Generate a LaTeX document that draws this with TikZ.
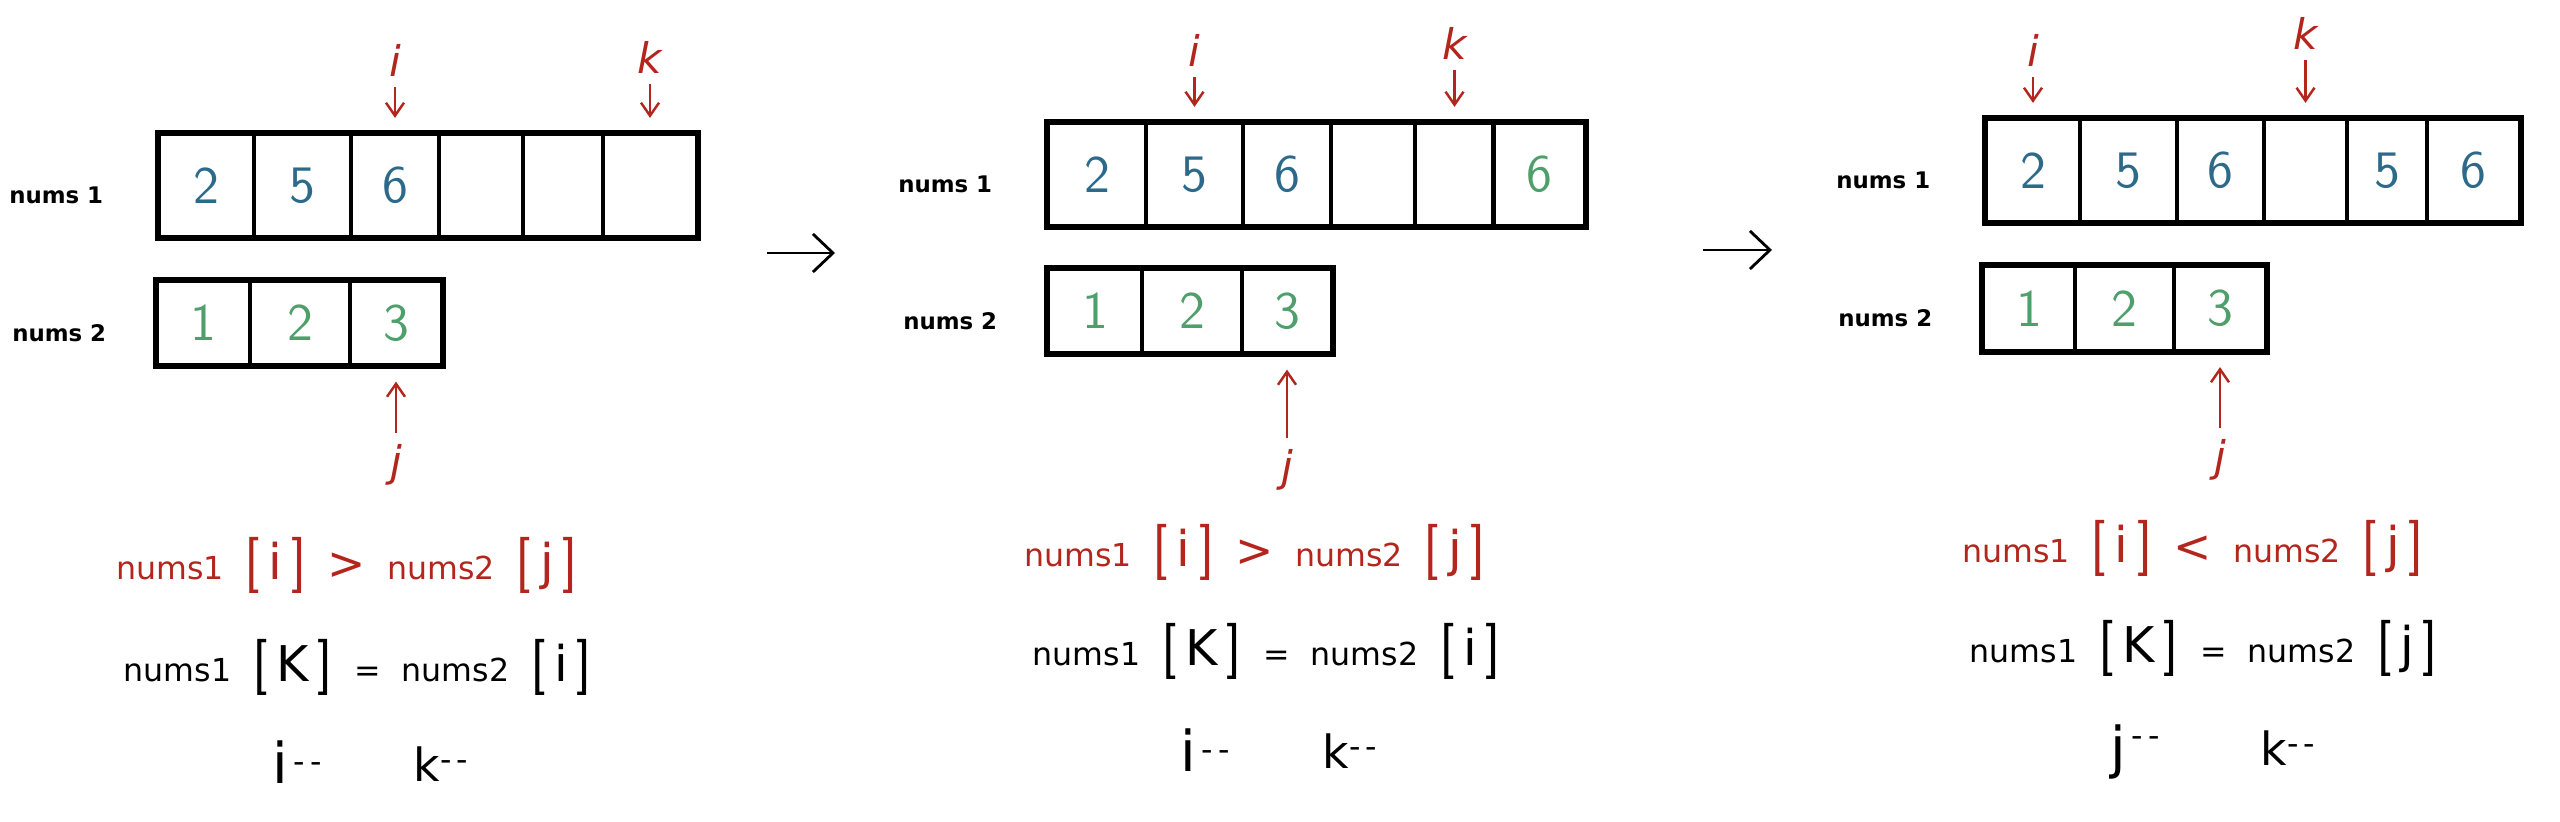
\documentclass[tikz,border=0pt]{standalone}
\usepackage{fontspec}
\setmainfont{DejaVu Sans}
\usepackage{xcolor}
\usepackage{tikz}
\usetikzlibrary{arrows.meta, positioning}

\definecolor{ptrred}{HTML}{B3261E}
\definecolor{oldblue}{HTML}{2D6A8A}
\definecolor{newgreen}{HTML}{4E9F6C}

\newcommand{\wg}{\hspace{6pt}}
\newcommand{\bigbr}[1]{{\sffamily\fontsize{16}{16}\selectfont[}\hspace{2.5pt}{\fontsize{14}{14}\selectfont #1}\hspace{2.5pt}{\sffamily\fontsize{16}{16}\selectfont]}}
\newcommand{\bigop}[1]{{\fontsize{13}{13}\selectfont #1}}

\begin{document}
\begin{tikzpicture}[
    x=0.01cm, y=-0.01cm,
    % Styles
    topcell/.style={
      draw=black,
      line width=0.9pt,
      minimum height=1.02cm,
      inner sep=0pt,
      font=\sffamily\fontsize{15}{15}\selectfont,
      text=oldblue
    },
    botcell/.style={
      draw=black,
      line width=0.9pt,
      minimum height=0.84cm,
      inner sep=0pt,
      font=\sffamily\fontsize{15}{15}\selectfont,
      text=newgreen
    },
    moved/.style={text=newgreen},
    rowframe/.style={draw=black, line width=1.5pt},
    rowname/.style={
      font=\bfseries\fontsize{6.5}{6.5}\selectfont,
      inner sep=1pt,
      yshift=-0.1cm
    },
    ptrname/.style={
      text=ptrred,
      font=\itshape\fontsize{12}{12}\selectfont,
      inner sep=1pt
    },
    ptr/.style={
      draw=ptrred,
      line width=0.7pt,
      -{Straight Barb[length=1.3mm, width=1.8mm]},
      shorten <=0.07cm,
      shorten >=0.15cm
    },
    cmpline/.style={text=ptrred, font=\fontsize{9}{9}\selectfont, inner sep=0pt},
    setline/.style={font=\fontsize{9}{9}\selectfont, inner sep=0pt},
    decline/.style={font=\fontsize{9}{9}\selectfont, inner sep=0pt},
    stepgo/.style={
      draw=black,
      line width=0.8pt,
      -{Straight Barb[length=2mm, width=3.8mm]}
    }
  ]

    \useasboundingbox (0,0) rectangle (2560,822);

    % ---------- Step 1 ----------
    \node (s1a1) [topcell, minimum width=0.95cm] at (206.5,185.5) {2};
    \node (s1a2) [topcell, minimum width=0.97cm] at (302.5,185.5) {5};
    \node (s1a3) [topcell, minimum width=0.88cm] at (395,185.5) {6};
    \node (s1a4) [topcell, minimum width=0.84cm] at (481,185.5) {};
    \node (s1a5) [topcell, minimum width=0.80cm] at (563,185.5) {};
    \node (s1a6) [topcell, minimum width=0.94cm] at (650,185.5) {};
    \node (s1b1) [botcell, minimum width=0.93cm] at (203.5,323) {1};
    \node (s1b2) [botcell, minimum width=1.00cm] at (300,323) {2};
    \node (s1b3) [botcell, minimum width=0.92cm] at (396,323) {3};
    \draw [rowframe] (s1a1.north west) rectangle (s1a6.south east);
    \draw [rowframe] (s1b1.north west) rectangle (s1b3.south east);

    \node (s1n1) [rowname, left=0.5cm of s1a1] {nums 1};
    \node (s1n2) [rowname, left=0.45cm of s1b1] {nums 2};

    \node (s1i) [ptrname] at (395,60) {i};
    \node (s1k) [ptrname] at (650,57) {k};
    \node (s1j) [ptrname] at (396,465) {j};
    \draw [ptr] (s1i) -- (s1a3.north);
    \draw [ptr] (s1k) -- (s1a6.north);
    \draw [ptr] (s1j) -- (s1b3.south);

    \node (s1cmp) [cmpline] at (347,565) {nums1\wg\bigbr{i}\wg\bigop{>}\wg nums2\wg\bigbr{j}};
    \node (s1set) [setline] at (358,667) {nums1\wg\bigbr{K}\wg=\wg nums2\wg\bigbr{i}};
    \node (s1idec) [decline] at (297,762) {{\fontsize{16}{16}\selectfont i}\,\raisebox{3pt}{-\,-}};
    \node (s1kdec) [decline] at (441,764) {{\fontsize{13}{13}\selectfont k}\raisebox{3pt}{-\,-}};

    \coordinate (go1a) at (767,253);
    \coordinate (go1b) at (835,253);
    \draw [stepgo] (go1a) -- (go1b);

    % ---------- Step 2 ----------
    \node (s2a1) [topcell, minimum width=0.98cm] at (1097,174.5) {2};
    \node (s2a2) [topcell, minimum width=0.97cm] at (1194.5,174.5) {5};
    \node (s2a3) [topcell, minimum width=0.88cm] at (1287,174.5) {6};
    \node (s2a4) [topcell, minimum width=0.84cm] at (1373,174.5) {};
    \node (s2a5) [topcell, minimum width=0.79cm] at (1454.5,174.5) {};
    \node (s2a6) [topcell, moved, minimum width=0.92cm] at (1539,174.5) {6};
    \node (s2b1) [botcell, minimum width=0.94cm] at (1095,311) {1};
    \node (s2b2) [botcell, minimum width=1.00cm] at (1192,311) {2};
    \node (s2b3) [botcell, minimum width=0.90cm] at (1287,311) {3};
    \draw [rowframe] (s2a1.north west) rectangle (s2a6.south east);
    \draw [rowframe] (s2b1.north west) rectangle (s2b3.south east);

    \node (s2n1) [rowname, left=0.5cm of s2a1] {nums 1};
    \node (s2n2) [rowname, left=0.45cm of s2b1] {nums 2};

    \node (s2i) [ptrname] at (1194.5,50) {i};
    \node (s2k) [ptrname] at (1454.5,43) {k};
    \node (s2j) [ptrname] at (1287,470) {j};
    \draw [ptr] (s2i) -- (s2a2.north);
    \draw [ptr] (s2k) -- (s2a5.north);
    \draw [ptr] (s2j) -- (s2b3.south);

    \node (s2cmp) [cmpline] at (1255,552) {nums1\wg\bigbr{i}\wg\bigop{>}\wg nums2\wg\bigbr{j}};
    \node (s2set) [setline] at (1267,651) {nums1\wg\bigbr{K}\wg=\wg nums2\wg\bigbr{i}};
    \node (s2idec) [decline] at (1205,750) {{\fontsize{16}{16}\selectfont i}\,\raisebox{3pt}{-\,-}};
    \node (s2kdec) [decline] at (1350,751) {{\fontsize{13}{13}\selectfont k}\raisebox{3pt}{-\,-}};

    \coordinate (go2a) at (1703,250);
    \coordinate (go2b) at (1772,250);
    \draw [stepgo] (go2a) -- (go2b);

    % ---------- Step 3 ----------
    \node (s3a1) [topcell, minimum width=0.94cm] at (2033,170.5) {2};
    \node (s3a2) [topcell, minimum width=0.97cm] at (2128.5,170.5) {5};
    \node (s3a3) [topcell, minimum width=0.87cm] at (2220.5,170.5) {6};
    \node (s3a4) [topcell, minimum width=0.83cm] at (2305.5,170.5) {};
    \node (s3a5) [topcell, minimum width=0.80cm] at (2387,170.5) {5};
    \node (s3a6) [topcell, minimum width=0.93cm] at (2473.5,170.5) {6};
    \node (s3b1) [botcell, minimum width=0.92cm] at (2029,308.5) {1};
    \node (s3b2) [botcell, minimum width=0.99cm] at (2124.5,308.5) {2};
    \node (s3b3) [botcell, minimum width=0.92cm] at (2220,308.5) {3};
    \draw [rowframe] (s3a1.north west) rectangle (s3a6.south east);
    \draw [rowframe] (s3b1.north west) rectangle (s3b3.south east);

    \node (s3n1) [rowname, left=0.5cm of s3a1] {nums 1};
    \node (s3n2) [rowname, left=0.45cm of s3b1] {nums 2};

    \node (s3i) [ptrname] at (2033,50) {i};
    \node (s3k) [ptrname] at (2305.5,33) {k};
    \node (s3j) [ptrname] at (2220,460) {j};
    \draw [ptr] (s3i) -- (s3a1.north);
    \draw [ptr] (s3k) -- (s3a4.north);
    \draw [ptr] (s3j) -- (s3b3.south);

    \node (s3cmp) [cmpline] at (2193,548) {nums1\wg\bigbr{i}\wg\bigop{<}\wg nums2\wg\bigbr{j}};
    \node (s3set) [setline] at (2204,648) {nums1\wg\bigbr{K}\wg=\wg nums2\wg\bigbr{j}};
    \node (s3jdec) [decline] at (2135,752) {{\fontsize{16}{16}\selectfont j}\,\raisebox{6pt}{-\,-}};
    \node (s3kdec) [decline] at (2288,748) {{\fontsize{13}{13}\selectfont k}\raisebox{3pt}{-\,-}};

  \end{tikzpicture}
\end{document}
